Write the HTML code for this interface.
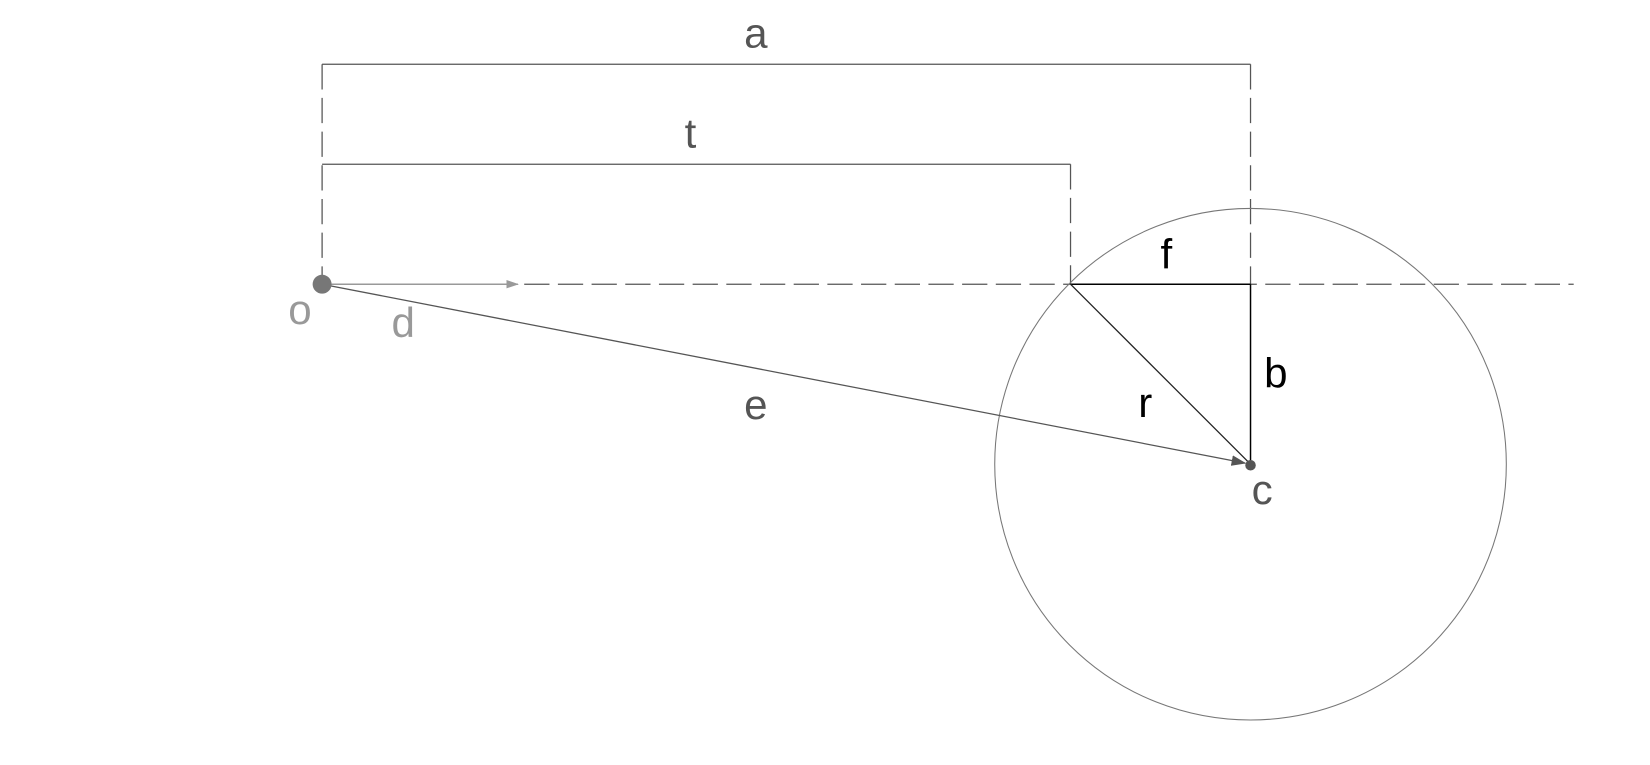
<!DOCTYPE html>
<html><head><meta charset="utf-8"><style>
html,body{margin:0;padding:0;background:#fff;}
svg{display:block;}
text{font-family:"Liberation Sans",sans-serif;font-size:40px;}
</style></head><body>
<svg width="1650" height="765" viewBox="0 0 1567.5 726.75" preserveAspectRatio="none">
<defs>
<marker id="ah" markerWidth="12" markerHeight="8" refX="11" refY="4" orient="auto" markerUnits="userSpaceOnUse"><path d="M0,0 L12,4 L0,8 Z" fill="#999"/></marker>
<marker id="ah2" markerWidth="14" markerHeight="10" refX="13" refY="5" orient="auto" markerUnits="userSpaceOnUse"><path d="M0,0 L14,5 L0,10 Z" fill="#555"/></marker>
</defs>
<g stroke="#555" stroke-width="1.2" fill="none" stroke-dasharray="24,8">
<line x1="306" y1="61" x2="306" y2="270"/>
<line x1="1188" y1="61" x2="1188" y2="270"/>
<line x1="1017" y1="156" x2="1017" y2="270"/>
<line x1="498" y1="270" x2="1495" y2="270"/>
</g>
<line x1="306" y1="61" x2="1188" y2="61" stroke="#555" stroke-width="1.2"/>
<line x1="306" y1="156" x2="1017" y2="156" stroke="#555" stroke-width="1.2"/>
<circle cx="1188" cy="441" r="243" fill="none" stroke="#777" stroke-width="1"/>
<line x1="1017" y1="270" x2="1188" y2="270" stroke="#000" stroke-width="1.4"/>
<line x1="1188" y1="270" x2="1188" y2="441" stroke="#000" stroke-width="1.4"/>
<line x1="1017" y1="270" x2="1188" y2="441" stroke="#222" stroke-width="1.2"/>
<line x1="306" y1="270" x2="492" y2="270" stroke="#999" stroke-width="1.4" marker-end="url(#ah)"/>
<line x1="306" y1="270" x2="1183" y2="440" stroke="#555" stroke-width="1.2" marker-end="url(#ah2)"/>
<circle cx="306" cy="270" r="9" fill="#777"/>
<circle cx="1188" cy="442" r="5" fill="#555"/>
<text x="718" y="45" fill="#555" text-anchor="middle">a</text>
<text x="656" y="140" fill="#555" text-anchor="middle">t</text>
<text x="1108" y="255" fill="#000" text-anchor="middle">f</text>
<text x="285" y="308" fill="#999" text-anchor="middle">o</text>
<text x="383" y="320" fill="#999" text-anchor="middle">d</text>
<text x="1212" y="368" fill="#000" text-anchor="middle">b</text>
<text x="718" y="398" fill="#555" text-anchor="middle">e</text>
<text x="1088" y="396" fill="#000" text-anchor="middle">r</text>
<text x="1199" y="479" fill="#555" text-anchor="middle">c</text>
</svg>
</body></html>
